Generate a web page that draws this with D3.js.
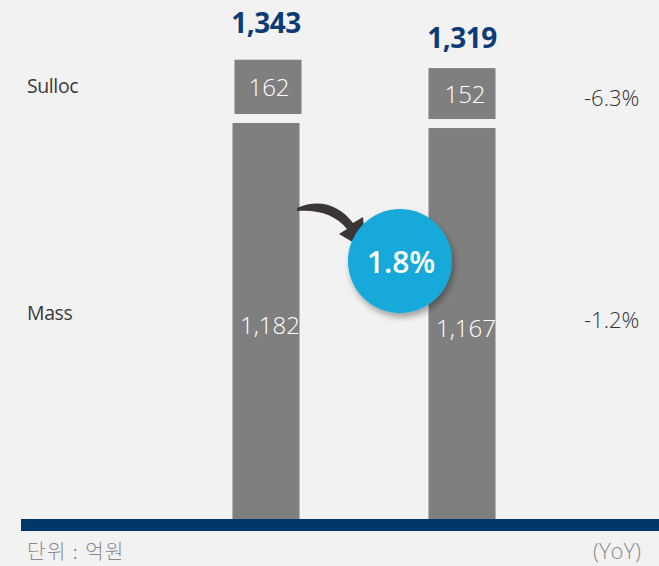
<!DOCTYPE html>
<html>
<head>
<meta charset="utf-8">
<script src="https://cdn.jsdelivr.net/npm/d3@7"></script>
<style>
  html, body { margin:0; padding:0; background:#f2f2f2; }
  svg { display:block; }
</style>
</head>
<body>
<svg width="659" height="566"></svg>
<script>
'use strict';

// the data
var periods = ['prev', 'curr'];
var massValues = [1182, 1167];
var sullocValues = [162, 152];
var totals = ['1,343', '1,319'];
var seriesNames = ['Sulloc', 'Mass'];
var yoyLabels = ['-6.3%', '-1.2%'];
var growthLabel = '1.8%';

var svg = d3.select('svg');
var base = 519, gap = 9, barW = 67;

var x = d3.scalePoint().domain(periods).range([266, 462]);
var y = d3.scaleLinear().domain([0, 1182]).range([0, 396]); // px height per value

var fmt = d3.format(',');

// shadow for the bubble
var defs = svg.append('defs');
var f = defs.append('filter').attr('id', 'sh').attr('x', '-30%').attr('y', '-30%').attr('width', '160%').attr('height', '160%');
f.append('feDropShadow').attr('dx', 2).attr('dy', 4).attr('stdDeviation', 3).attr('flood-color', '#000').attr('flood-opacity', 0.35);

function sullocTop(i){ return base - y(massValues[i]) - gap - y(sullocValues[i]); }

// mass bars
svg.selectAll('rect.mass').data(periods).enter().append('rect')
  .attr('class', 'mass')
  .attr('x', function(d){ return x(d) - barW / 2; })
  .attr('width', barW)
  .attr('y', function(d, i){ return base - y(massValues[i]); })
  .attr('height', function(d, i){ return y(massValues[i]); })
  .attr('fill', '#7f7f7f');

// sulloc bars
svg.selectAll('rect.sulloc').data(periods).enter().append('rect')
  .attr('class', 'sulloc')
  .attr('x', function(d, i){ return x(d) - barW / 2 + (i === 0 ? 2 : 0); })
  .attr('width', barW)
  .attr('y', function(d, i){ return sullocTop(i); })
  .attr('height', function(d, i){ return y(sullocValues[i]); })
  .attr('fill', '#7f7f7f');

// labels inside bars
svg.selectAll('text.mv').data(periods).enter().append('text')
  .attr('x', function(d){ return x(d) + 4; })
  .attr('y', function(d, i){ return 334 + i * 3; })
  .attr('text-anchor', 'middle')
  .attr('font-family', 'Open Sans').attr('font-weight', 300)
  .attr('font-size', 24).attr('fill', '#fff')
  .text(function(d, i){ return fmt(massValues[i]); });

svg.selectAll('text.sv').data(periods).enter().append('text')
  .attr('x', function(d){ return x(d) + 3; })
  .attr('y', function(d, i){ return sullocTop(i) + y(sullocValues[i]) / 2 + 9; })
  .attr('text-anchor', 'middle')
  .attr('font-family', 'Open Sans').attr('font-weight', 300)
  .attr('font-size', 24).attr('fill', '#fff')
  .text(function(d, i){ return sullocValues[i]; });

// totals
svg.selectAll('text.tot').data(periods).enter().append('text')
  .attr('x', function(d){ return x(d); })
  .attr('y', function(d, i){ return sullocTop(i) - (i === 0 ? 27 : 20); })
  .attr('text-anchor', 'middle')
  .attr('font-family', 'Open Sans').attr('font-weight', 700)
  .attr('font-size', 28).attr('fill', '#0b3c78')
  .attr('letter-spacing', -0.5)
  .text(function(d, i){ return totals[i]; });

// series names left, yoy right
var rowY = [93, 320], yoyY = [106, 328];
svg.selectAll('text.nm').data(seriesNames).enter().append('text')
  .attr('x', 27).attr('y', function(d, i){ return rowY[i]; })
  .attr('font-family', 'Open Sans').attr('font-size', 19.5).attr('fill', '#3a3a3a')
  .attr('letter-spacing', -0.4)
  .text(function(d){ return d; });
svg.selectAll('text.yoy').data(yoyLabels).enter().append('text')
  .attr('x', 584).attr('y', function(d, i){ return yoyY[i]; })
  .attr('font-family', 'Open Sans').attr('font-weight', 300)
  .attr('font-size', 22).attr('fill', '#333')
  .text(function(d){ return d; });

// baseline
svg.append('rect').attr('x', 21).attr('y', base).attr('width', 659 - 21).attr('height', 12).attr('fill', '#00386b');

// arrow
svg.append('path')
  .attr('d', 'M297,208 C320,198 340,206 353,223 L363,217 L366,250 L339,234 L347,229 C336,215 318,209 297,211 Z')
  .attr('fill', '#3b3536');

// growth bubble
svg.append('circle').attr('cx', 400).attr('cy', 261).attr('r', 52)
  .attr('fill', '#13a9d9').attr('filter', 'url(#sh)');
svg.append('text').attr('x', 401).attr('y', 273).attr('text-anchor', 'middle')
  .attr('font-family', 'Open Sans').attr('font-weight', 600)
  .attr('font-size', 30).attr('fill', '#fff').text(growthLabel);

// footer
svg.append('text').attr('x', 27).attr('y', 559)
  .attr('font-family', 'Noto Sans CJK KR').attr('font-weight', 300)
  .attr('font-size', 20).attr('fill', '#8a8a8a').attr('letter-spacing', 1.5)
  .text('단위 : 억원');
svg.append('text').attr('x', 641).attr('y', 559).attr('text-anchor', 'end')
  .attr('font-family', 'Open Sans').attr('font-weight', 300)
  .attr('font-size', 22).attr('fill', '#8a8a8a').text('(YoY)');
</script>
</body>
</html>
